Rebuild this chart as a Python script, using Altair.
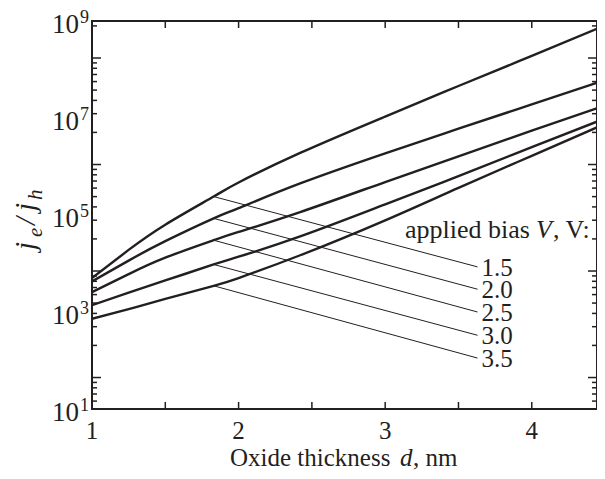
import altair as alt
import pandas as pd

# ---------------- data ----------------
thickness = [1.0, 1.25, 1.5, 1.83, 2.0, 2.42, 3.0, 3.5, 4.0, 4.5]
# log10(j_e/j_h) for each applied bias
exp_v15 = [3.70, 4.28, 4.80, 5.38, 5.67, 6.28, 7.03, 7.66, 8.28, 8.91]
exp_v20 = [3.63, 4.06, 4.46, 4.93, 5.14, 5.65, 6.27, 6.78, 7.28, 7.78]
exp_v25 = [3.41, 3.78, 4.12, 4.48, 4.65, 5.06, 5.68, 6.21, 6.74, 7.26]
exp_v30 = [3.14, 3.40, 3.65, 3.98, 4.14, 4.56, 5.22, 5.80, 6.40, 6.99]
exp_v35 = [2.86, 3.06, 3.27, 3.54, 3.70, 4.17, 4.89, 5.56, 6.22, 6.88]
bias_labels = ["1.5", "2.0", "2.5", "3.0", "3.5"]

leader_start_x = 1.83
leader_end_x = 3.63
leader_start_exp = [5.38, 4.93, 4.48, 3.98, 3.54]
leader_end_exp = [3.93, 3.47, 3.00, 2.52, 2.05]

x_tick_labels = [1, 2, 3, 4]
x_tick_values = [1.5, 2.0, 2.5, 3.0, 3.5, 4.0]
y_label_exp = [1, 3, 5, 7, 9]
y_long_tick_exp = [8.237, 6.041, 3.845, 1.649]
y_short_tick_exp = [8.899,
                    8.136, 8.025, 7.897, 7.751, 7.575, 7.363, 7.089, 6.703,
                    5.940, 5.829, 5.701, 5.555, 5.379, 5.167, 4.893, 4.507,
                    3.744, 3.633, 3.505, 3.359, 3.184, 2.971, 2.697, 2.311,
                    1.548, 1.437, 1.309, 1.163]

# ---------------- tables ----------------
series = [exp_v15, exp_v20, exp_v25, exp_v30, exp_v35]
curve_df = pd.DataFrame([
    {"d": d, "v": 10 ** e, "bias": lab}
    for lab, ser in zip(bias_labels, series)
    for d, e in zip(thickness, ser)
])
leader_df = pd.DataFrame({
    "label": bias_labels,
    "d": [leader_start_x] * 5,
    "v": [10 ** e for e in leader_start_exp],
    "d2": [leader_end_x] * 5,
    "v2": [10 ** e for e in leader_end_exp],
})
xt_df = pd.DataFrame({"d": x_tick_values})
xl_df = pd.DataFrame({"d": x_tick_labels, "t": [str(v) for v in x_tick_labels]})
yl_df = pd.DataFrame({"v": [10.0 ** e for e in y_label_exp],
                      "sup": [str(e) for e in y_label_exp]})
ylong_df = pd.DataFrame({"v": [10 ** e for e in y_long_tick_exp]})
yshort_df = pd.DataFrame({"v": [10 ** e for e in y_short_tick_exp]})
one = pd.DataFrame({"a": [0]})

# the reference plot runs past the window's right edge; show the visible part
W, H = 505, 388
X_MAX_VISIBLE = 4.445
INK = "#231f20"
FONT = "Liberation Serif"

xs = alt.Scale(domain=[1, X_MAX_VISIBLE], nice=False, zero=False)
ys = alt.Scale(type="log", domain=[10, 1e9], nice=False)


def X(f="d"):
    return alt.X(f"{f}:Q", scale=xs, axis=None)


def Y(f="v"):
    return alt.Y(f"{f}:Q", scale=ys, axis=None)


curves = alt.Chart(curve_df).mark_line(
    color=INK, strokeWidth=2.4, interpolate="natural", clip=True
).encode(x=X(), y=Y(), detail="bias:N")

leaders = alt.Chart(leader_df).mark_rule(color=INK, strokeWidth=1).encode(
    x=X(), y=Y(), x2="d2:Q", y2="v2:Q")

bias_text = alt.Chart(leader_df).mark_text(
    align="left", baseline="middle", font=FONT, fontSize=25, color=INK, dx=4, dy=1
).encode(x=X("d2"), y=Y("v2"), text="label:N")

xt_bottom = alt.Chart(xt_df).mark_rule(color=INK, strokeWidth=1.5).encode(
    x=X(), y=alt.value(H), y2=alt.value(H - 7))
xt_top = alt.Chart(xt_df).mark_rule(color=INK, strokeWidth=1.5).encode(
    x=X(), y=alt.value(0), y2=alt.value(7))

yl_left = alt.Chart(ylong_df).mark_rule(color=INK, strokeWidth=1.5).encode(
    y=Y(), x=alt.value(0), x2=alt.value(9))
ys_left = alt.Chart(yshort_df).mark_rule(color=INK, strokeWidth=1.5).encode(
    y=Y(), x=alt.value(0), x2=alt.value(5))
yl_right = alt.Chart(ylong_df).mark_rule(color=INK, strokeWidth=1.5).encode(
    y=Y(), x=alt.value(W), x2=alt.value(W - 9))
ys_right = alt.Chart(yshort_df).mark_rule(color=INK, strokeWidth=1.5).encode(
    y=Y(), x=alt.value(W), x2=alt.value(W - 5))

x_labels = alt.Chart(xl_df).mark_text(
    align="center", baseline="alphabetic", font=FONT, fontSize=25, color=INK
).encode(x=X(), y=alt.value(H + 30), text="t:N")

y_ten = alt.Chart(yl_df).mark_text(
    align="right", baseline="middle", font=FONT, fontSize=27, color=INK, dy=4
).encode(x=alt.value(-13), y=Y(), text=alt.value("10"))
y_sup = alt.Chart(yl_df).mark_text(
    align="left", baseline="middle", font=FONT, fontSize=18, color=INK, dy=-3
).encode(x=alt.value(-12), y=Y(), text="sup:N")


def ptext(txt, x, y, size=26, italic=False, align="left", angle=0):
    kw = dict(align=align, baseline="alphabetic", font=FONT, fontSize=size,
              color=INK, text=txt)
    if italic:
        kw["fontStyle"] = "italic"
    if angle:
        kw["angle"] = angle
    return alt.Chart(one).mark_text(**kw).encode(x=alt.value(x), y=alt.value(y))


# x-axis title: "Oxide thickness d, nm"
title_parts = [
    ptext("Oxide thickness", 138, 445, size=25),
    ptext("d", 308, 445, size=25, italic=True),
    ptext(", nm", 321, 445, size=25),
]
# annotation: "applied bias V, V:"
bias_title = [
    ptext("applied bias", 313, 217),
    ptext("V", 444, 217, italic=True),
    ptext(", V:", 461, 217),
]
# y-axis title j_e/j_h (rotated)
ylab = [
    ptext("j", -57, 229, size=29, italic=True, angle=270),
    ptext("e", -50, 216, size=21, italic=True, angle=270),
    ptext("/", -57, 204, size=29, italic=True, angle=270),
    ptext("j", -57, 190, size=29, italic=True, angle=270),
    ptext("h", -50, 179, size=21, italic=True, angle=270),
]

chart = alt.layer(
    curves, leaders, bias_text,
    xt_bottom, xt_top, yl_left, ys_left, yl_right, ys_right,
    x_labels, y_ten, y_sup,
    *title_parts, *bias_title, *ylab,
).properties(
    width=W, height=H,
    autosize=alt.AutoSizeParams(type="none"),
    padding={"left": 84, "top": 13, "right": 0, "bottom": 62},
    background="white",
).configure_view(stroke=INK, strokeWidth=2)

chart.save("out.html", embed_options={"renderer": "svg", "actions": False})
